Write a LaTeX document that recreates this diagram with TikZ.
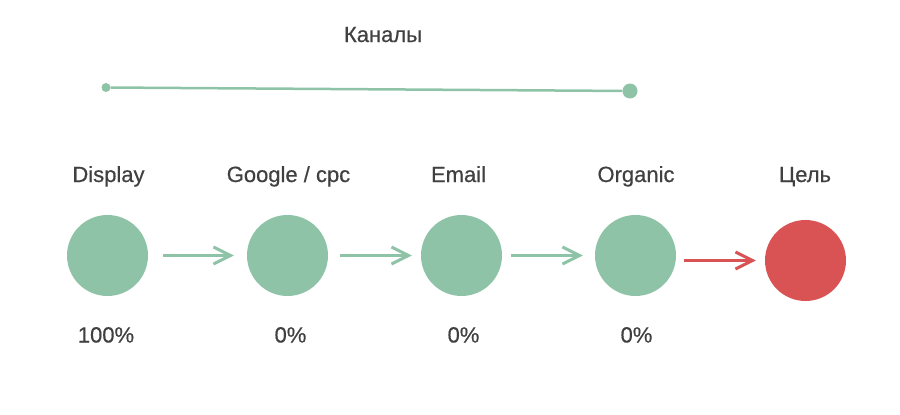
\documentclass[tikz,border=0pt]{standalone}
\usepackage{fontspec}
\setmainfont{Liberation Sans}[BoldFont={Liberation Sans}, BoldFeatures={FakeBold=0.5}]
\usetikzlibrary{positioning,arrows.meta}
\definecolor{chgreen}{HTML}{8FC3A7}
\definecolor{chred}{HTML}{D95355}
\definecolor{chtext}{HTML}{404040}
\tikzset{
  stage/.style={circle, fill=chgreen, minimum size=81pt, inner sep=0pt},
  dot/.style={circle, fill=chgreen, inner sep=0pt},
  flow/.style={line width=3pt, chgreen,
    -{Straight Barb[length=17pt,width=17pt]}},
  lbl/.style={text=chtext, font=\fontsize{22}{26}\selectfont\bfseries,
    anchor=base, inner sep=0pt},
}
\begin{document}
\begin{tikzpicture}[x=1pt, y=-1pt]
\useasboundingbox (0,0) rectangle (900,415);

\node[lbl] (title) at (383,42) {Каналы};
\node[dot, minimum size=9pt]  (chstart) at (106,87.5) {};
\node[dot, minimum size=15pt] (chend)   at (630,91) {};
\draw[chgreen, line width=2.5pt] (chstart) -- (chend);

\node[stage] (disp)  at (107.5,255.5) {};
\node[stage] (goog)  at (287.5,255.5) {};
\node[stage] (mail)  at (461.5,255.5) {};
\node[stage] (organ) at (635.5,255.5) {};
\node[stage, fill=chred] (goal) at (805.5,260.5) {};

\draw[flow, shorten <=15pt, shorten >=13pt] (disp) -- (goog);
\draw[flow, shorten <=12pt, shorten >=9pt] (goog) -- (mail);
\draw[flow, shorten <=9pt, shorten >=12pt] (mail) -- (organ);
\draw[flow, chred, shorten <=8pt, shorten >=9pt] (organ.east |- goal) -- (goal.west);

\node[lbl] (displbl)  at (108.5,182) {Display};
\node[lbl] (googlbl)  at (288.5,182) {Google / cpc};
\node[lbl] (maillbl)  at (458.5,182) {Email};
\node[lbl] (organlbl) at (636,182) {Organic};
\node[lbl] (goallbl)  at (805,182) {Цель};

\node[lbl] (dispval)  at (106,342.5) {100\%};
\node[lbl] (googval)  at (290.5,342.5) {0\%};
\node[lbl] (mailval)  at (463.5,342.5) {0\%};
\node[lbl] (organval) at (636.5,342.5) {0\%};
\end{tikzpicture}
\end{document}
